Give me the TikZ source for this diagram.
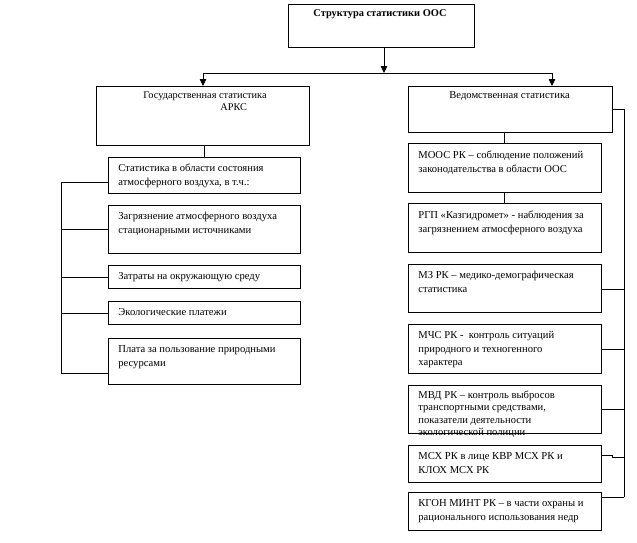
\documentclass[tikz,border=0pt]{standalone}
\usepackage{fontspec}
\setmainfont{Liberation Serif}
\usetikzlibrary{arrows.meta}
\newcommand\mybox[5]{\node[box, minimum width=#4pt, minimum height=#5pt] (#1) at (#2,#3) {};}
\begin{document}
\begin{tikzpicture}[x=1pt,y=-1pt, line width=0.8pt, line cap=rect,
  box/.style={draw, anchor=north west, inner sep=0pt, outer sep=0pt},
  txt/.style={anchor=north west, align=left, inner sep=0pt, font=\fontsize{10.6}{13.5}\selectfont},
  tri/.style={-{Triangle[length=7pt,width=6.5pt]}}]
\useasboundingbox (0,0) rectangle (637,542);
% boxes
\mybox{top}{288}{4}{186}{43}
\mybox{gos}{96}{86}{213}{59}
\mybox{ved}{408}{86}{204}{46}
\mybox{L1}{108}{157}{192}{36}
\mybox{L2}{108}{205}{192}{48}
\mybox{L3}{108}{265}{192}{23}
\mybox{L4}{108}{301}{192}{23}
\mybox{L5}{108}{338}{192}{46}
\mybox{R1}{408}{143}{193}{49}
\mybox{R2}{408}{203}{193}{49}
\mybox{R3}{408}{264}{193}{48}
\mybox{R4}{408}{324}{193}{49}
\mybox{R5}{408}{385}{193}{48}
\mybox{R6}{408}{445}{193}{37}
\mybox{R7}{408}{492}{193}{38}
% texts
\node[anchor=base, inner sep=0pt, font=\fontsize{10.4}{12}\selectfont\bfseries] at (380,16) {Структура статистики ООС};
\node[anchor=north west, align=left, inner sep=0pt, font=\fontsize{10.3}{12}\selectfont] at (143,90) {\strut Государственная статистика\\\hspace*{77pt}АРКС};
\node[anchor=base west, inner sep=0pt, font=\fontsize{10.6}{12}\selectfont] at (449,98) {Ведомственная статистика};
\node[txt] at ([shift={(10,5)}]L1.north west) {\strut Статистика в области состояния\\атмосферного воздуха, в т.ч.:};
\node[txt] at ([shift={(10,5)}]L2.north west) {\strut Загрязнение атмосферного воздуха\\стационарными источниками};
\node[txt] at ([shift={(10,5)}]L3.north west) {\strut Затраты на окружающую среду};
\node[txt] at ([shift={(10,5)}]L4.north west) {\strut Экологические платежи};
\node[txt] at ([shift={(10,5)}]L5.north west) {\strut Плата за пользование природными\\ресурсами};
\node[txt] at ([shift={(10,6)}]R1.north west) {\strut МООС РК – соблюдение положений\\законодательства в области ООС};
\node[txt] at ([shift={(10,6)}]R2.north west) {\strut РГП «Казгидромет» - наблюдения за\\загрязнением атмосферного воздуха};
\node[txt] at ([shift={(10,5)}]R3.north west) {\strut МЗ РК – медико-демографическая\\статистика};
\node[txt] at ([shift={(10,5)}]R4.north west) {\strut МЧС РК -\ \ контроль ситуаций\\природного и техногенного\\характера};
\node[txt, font=\fontsize{10.6}{12.5}\selectfont] at ([shift={(10,4)}]R5.north west) {\strut МВД РК – контроль выбросов\\транспортными средствами,\\показатели деятельности\\экологической полиции};
\node[txt] at ([shift={(10,5)}]R6.north west) {\strut МСХ РК в лице КВР МСХ РК и\\КЛОХ МСХ РК};
\node[txt] at ([shift={(10,5)}]R7.north west) {\strut КГОН МИНТ РК – в части охраны и\\рационального использования недр};
% redraw R5 bottom border over overflowing text
\draw (R5.south west) -- (R5.south east);
% top connectors
\coordinate (j) at (384,73);
\coordinate (jl) at (203,73);
\coordinate (jr) at (552,73);
\draw[tri] (j |- top.south) -- (j);
\draw (jl) -- (jr);
\draw[tri] (jl) -- (jl |- gos.north);
\draw[tri] (jr) -- (jr |- ved.north);
% left tree
\draw (L1.north |- gos.south) -- (L1.north);
\coordinate (a1) at (61,182);
\coordinate (a2) at (61,229);
\coordinate (a3) at (61,277);
\coordinate (a4) at (61,313);
\coordinate (a5) at (61,373);
\draw (a1) -- (a5);
\foreach \i in {1,...,5} {\draw (a\i) -- (a\i -| L\i.west);}
% right tree
\draw (R1.north |- ved.south) -- (R1.north);
\draw (R1.south) -- (R2.north);
\coordinate (b0) at (624,109);
\coordinate (b3) at (624,289);
\coordinate (b4) at (624,349);
\coordinate (b5) at (624,409);
\coordinate (b6) at (624,457);
\coordinate (b6a) at (612,455);
\coordinate (b7) at (624,497);
\draw (b0) -- (b7);
\draw (b0) -- (b0 -| ved.east);
\foreach \i in {3,4,5,7} {\draw (b\i) -- (b\i -| R\i.east);}
\draw (b6) -- (b6 -| b6a) -- (b6a) -- (b6a -| R6.east);
\end{tikzpicture}
\end{document}
